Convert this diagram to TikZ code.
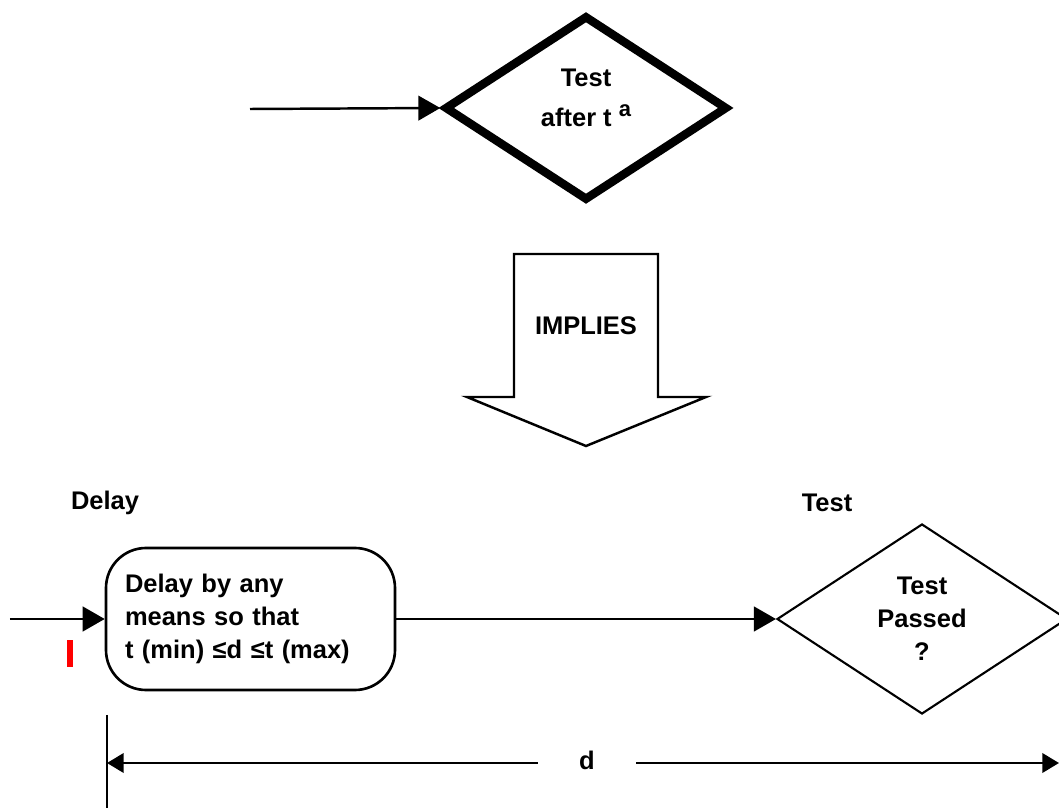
\documentclass[tikz,border=0pt]{standalone}
\usepackage{fontspec}
\setmainfont{Liberation Sans}
\usetikzlibrary{arrows.meta,shapes.geometric,positioning}

\begin{document}
\begin{tikzpicture}[
  txt/.style={font=\fontsize{14.5}{18.7}\selectfont\bfseries,align=center},
  dec/.style={draw,shape=diamond,aspect=1.5,inner sep=0pt,txt},
  f/.style={-{Triangle[length=12.5pt,width=14pt]},line width=1.4pt},
  dim/.style={-{Triangle[length=9.5pt,width=11pt]},line width=1.6pt}]
\useasboundingbox (0,0) rectangle (21.18,16.16);
% single test after t^a
\node[dec,line width=4.8pt,minimum width=5.66cm,minimum height=3.7cm] (tst) at (11.72,14.0) {};
\node[txt] (tsttxt) at (11.72,14.2) {Test\\[4pt]after t \raisebox{6pt}{\fontsize{12.5}{12.5}\selectfont a}};
\coordinate (in1) at (5.0,13.98);
\draw[f] (in1) -- (tst.west);
% block arrow
\draw[line width=1.4pt] (10.28,11.08) -- (13.16,11.08) -- (13.16,8.22) -- (14.12,8.22)
  -- (11.72,7.24) -- (9.34,8.22) -- (10.28,8.22) -- cycle;
\node[txt] (impl) at (11.72,9.64) {IMPLIES};
% delay, then test
\node[txt] (dlyl) at (2.10,6.10) {Delay};
\node[txt] (tstl) at (16.54,6.10) {Test};
\node[draw,line width=1.5pt,rounded corners=0.8cm,txt,align=left,text width=5.02cm,
  inner xsep=0.38cm,minimum height=2.84cm] (dly) at (5.01,3.78)
  {Delay by any\\means so that\\t (min) ≤d ≤t (max)};
\node[dec,line width=1.2pt,minimum width=5.8cm,minimum height=3.8cm] (pass) at (18.44,3.78) {Test\\Passed\\?};
\coordinate (in2) at (0.2,3.78);
\draw[f] (in2) -- (dly.west);
\draw[f] (dly.east) -- (pass.west);
\node[fill=red,minimum width=0.12cm,minimum height=0.54cm,inner sep=0pt] (mark) at (1.40,3.09) {};
% span d
\coordinate (v0) at (2.14,1.86);
\coordinate (v1) at (2.14,0);
\draw[line width=1.6pt] (v0) -- (v1);
\coordinate (dL) at (2.14,0.90);
\coordinate (dR) at (21.18,0.90);
\node[txt,minimum width=1.96cm] (dd) at (11.74,0.96) {d};
\draw[dim] (dd.west |- dL) -- (dL);
\draw[dim] (dd.east |- dR) -- (dR);
\end{tikzpicture}
\end{document}
